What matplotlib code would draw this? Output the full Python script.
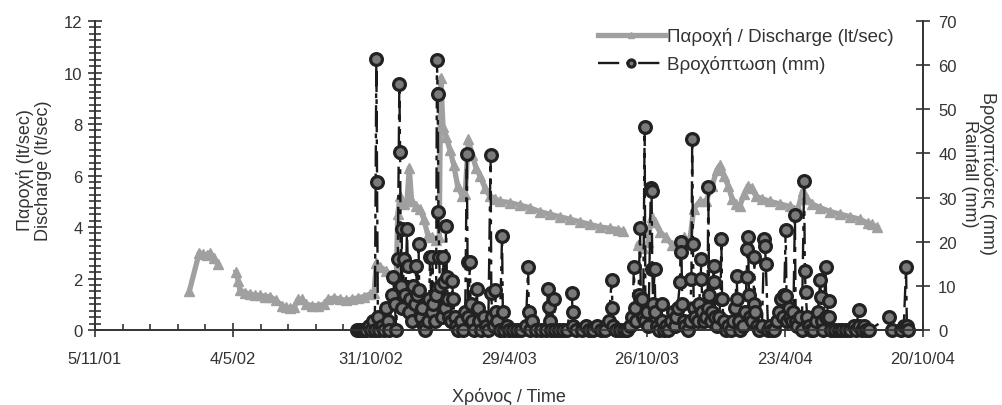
import numpy as np
import pandas as pd
import matplotlib
matplotlib.use('Agg')
import matplotlib.pyplot as plt
import matplotlib.dates as mdates
from matplotlib.ticker import MultipleLocator, FixedLocator

plt.rcParams['font.family'] = ['Liberation Sans', 'DejaVu Sans']
plt.rcParams['text.color'] = '#333333'
plt.rcParams['axes.labelcolor'] = '#333333'

start = pd.Timestamp('2001-11-05')
tick_dates = ['2001-11-05', '2002-05-04', '2002-10-31', '2003-04-29',
              '2003-10-26', '2004-04-23', '2004-10-20']
tick_labels = ['5/11/01', '4/5/02', '31/10/02', '29/4/03', '26/10/03', '23/4/04', '20/10/04']

# discharge (lt/sec), (days since 5/11/01, value), three measuring periods
q_seg1 = [(123, 1.5), (136, 3.0), (141, 2.95), (146, 2.9), (150, 3.0), (155, 2.8), (160, 2.55)]
q_seg2 = [(184, 2.25), (187, 1.9), (189, 1.55), (196, 1.45), (202, 1.4), (209, 1.35), (215, 1.35),
          (222, 1.3), (228, 1.3), (236, 1.15), (244, 0.95), (249, 0.9), (254, 0.85), (260, 0.9),
          (265, 1.2), (270, 1.2), (275, 1.0), (283, 0.95), (291, 0.95), (299, 1.0), (304, 1.2),
          (312, 1.25), (320, 1.2), (327, 1.15), (335, 1.2), (343, 1.25), (351, 1.3), (359, 1.4),
          (364, 1.45), (367, 2.6), (372, 2.45), (380, 2.3), (387, 2.1), (393, 2.0), (395, 4.5),
          (398, 5.2), (403, 4.9), (407, 5.0), (410, 6.3), (413, 5.0), (419, 4.8), (424, 4.7),
          (429, 4.3), (434, 3.7), (440, 3.6), (445, 3.5), (449, 3.6), (451, 9.8), (454, 7.9),
          (458, 7.5), (463, 7.0), (468, 6.4), (473, 5.6), (479, 5.2), (483, 5.3), (487, 7.4),
          (492, 6.8), (497, 6.3), (502, 6.0), (509, 5.5), (515, 5.2), (522, 5.1), (528, 5.0),
          (541, 4.95), (554, 4.85), (567, 4.75), (580, 4.6), (593, 4.5), (606, 4.4), (620, 4.3),
          (633, 4.2), (646, 4.1), (659, 4.0), (672, 3.95), (682, 3.9), (689, 3.85)]
q_seg3 = [(708, 3.3), (715, 3.2), (721, 3.4), (726, 4.4), (730, 4.2), (737, 3.8), (745, 3.6),
          (753, 3.3), (760, 3.3), (768, 3.6), (776, 3.5), (781, 4.7), (789, 5.0), (797, 5.0),
          (805, 5.6), (811, 6.2), (815, 6.4), (820, 6.0), (826, 5.6), (831, 5.1), (836, 4.9),
          (841, 4.8), (847, 5.3), (852, 5.6), (857, 5.5), (862, 5.2), (870, 5.1), (880, 5.0),
          (893, 4.9), (906, 4.8), (917, 4.7), (923, 5.4), (929, 5.1), (935, 4.9), (946, 4.75),
          (959, 4.6), (972, 4.5), (985, 4.4), (998, 4.3), (1008, 4.15), (1013, 4.1), (1020, 4.0)]

# rainfall (mm), (days since 5/11/01, value)
rain_obs = [
    (342, 0), (345, 0), (348, 0), (351, 0), (354, 0), (357, 1), (360, 0), (363, 2), (365, 0),
    (367, 61.5), (368, 33.6), (369, 3), (371, 0), (374, 1), (377, 0), (380, 5), (382, 2), (384, 0),
    (387, 8), (389, 12), (391, 6), (393, 0), (395, 16), (397, 55.7), (398, 40.3), (399, 10),
    (400, 22.9), (401, 5), (403, 16), (405, 8), (407, 22.9), (408, 14.5), (409, 4), (411, 7),
    (413, 2), (415, 10), (417, 6), (419, 14.5), (420, 8), (422, 19.5), (423, 9), (425, 3),
    (427, 5), (429, 1), (431, 0), (434, 2), (436, 7), (437, 16.5), (439, 4), (440, 16.5),
    (441, 6), (443, 2), (445, 8), (446, 61.2), (447, 53.5), (448, 26.7), (449, 16.5), (450, 10),
    (452, 3), (454, 16.5), (455, 10.8), (456, 5), (458, 23.6), (459, 12), (460, 7), (462, 3),
    (464, 2), (466, 11.2), (467, 7), (469, 3), (471, 1), (474, 0), (477, 2), (480, 0), (483, 4),
    (485, 39.9), (486, 15.3), (487, 3), (489, 15.3), (490, 6), (492, 2), (495, 0), (498, 9.3),
    (499, 5), (501, 2), (504, 0), (507, 3), (510, 1), (513, 0), (516, 39.6), (517, 8.3), (518, 3),
    (520, 1), (522, 9), (523, 4), (525, 2), (528, 0), (531, 21.3), (532, 4), (534, 0), (537, 1),
    (540, 0), (545, 0), (550, 0), (556, 0), (562, 1), (565, 14.2), (566, 4), (567, 0), (570, 2),
    (575, 0), (582, 0), (588, 0), (591, 9.3), (592, 5.3), (593, 2), (595, 0), (599, 7), (600, 0),
    (605, 0), (610, 0), (616, 0), (622, 8.4), (623, 4), (624, 1), (628, 0), (635, 0), (640, 1),
    (645, 0), (650, 0), (655, 1), (660, 0), (665, 0), (670, 2), (674, 11.3), (675, 5), (676, 1),
    (680, 0), (685, 0), (690, 0), (694, 0), (698, 1), (701, 3), (703, 14.2), (704, 5), (706, 2),
    (709, 8), (711, 23), (712, 7), (713, 7), (715, 3), (717, 46), (718, 2), (720, 4), (722, 1),
    (725, 32.2), (726, 31.5), (727, 13.8), (728, 6), (730, 13.8), (731, 4), (733, 1), (736, 0),
    (739, 6), (740, 2), (742, 0), (745, 1), (748, 0), (751, 2), (754, 4), (756, 1), (758, 3),
    (760, 5), (763, 10.8), (764, 19.9), (765, 17.7), (766, 6), (768, 2), (770, 1), (773, 0),
    (776, 2), (778, 11.6), (779, 43.3), (780, 19.5), (781, 5), (783, 3), (786, 2), (788, 6),
    (790, 11.6), (791, 16), (792, 4), (794, 2), (797, 3), (799, 5), (800, 32.4), (801, 8),
    (803, 2), (805, 4), (807, 14.5), (808, 10.8), (809, 3), (811, 1), (814, 3), (816, 7),
    (817, 20.6), (818, 7), (820, 2), (823, 0), (826, 1), (829, 0), (832, 2), (835, 5),
    (837, 12.2), (838, 7), (840, 2), (842, 0), (845, 1), (848, 4), (850, 12), (851, 18.3),
    (852, 21.1), (853, 8), (855, 3), (857, 2), (859, 6), (860, 16.5), (861, 4), (863, 1),
    (866, 0), (870, 1), (873, 20.6), (874, 19), (875, 15), (878, 0), (880, 1), (883, 0),
    (886, 0), (889, 2), (892, 4), (895, 7), (897, 3), (899, 8), (901, 22.7), (902, 7.6),
    (903, 2), (905, 5), (907, 3), (909, 2), (911, 4), (913, 26), (914, 2), (916, 1), (919, 3),
    (922, 0), (925, 33.8), (926, 13.4), (927, 8.5), (929, 3), (931, 1), (934, 0), (937, 0),
    (940, 2), (943, 4), (946, 11.3), (947, 7.4), (948, 2), (950, 0), (953, 14.2), (954, 3),
    (957, 6.5), (958, 3), (960, 0), (965, 0), (970, 0), (975, 0), (980, 0), (985, 0), (990, 1),
    (993, 0), (996, 4.6), (997, 1), (1000, 0), (1003, 1), (1006, 0), (1010, 0), (1036, 3),
    (1040, 0), (1052, 0), (1055, 1), (1058, 14.2), (1059, 1), (1060, 0)]


def to_dates(days):
    return start + pd.to_timedelta(np.asarray(days, dtype=float), unit='D')


ink = '#333333'
fig = plt.figure(figsize=(10.02, 4.06), dpi=100)
ax = fig.add_axes([0.0948, 0.1847, 0.8263, 0.7611])
ax2 = ax.twinx()

for i, seg in enumerate([q_seg1, q_seg2, q_seg3]):
    d, v = zip(*seg)
    ax.plot(to_dates(d), v, color='#a0a0a0', lw=3.8, marker='^', ms=6.5,
            mfc='#a0a0a0', mec='#a0a0a0', label='Παροχή / Discharge (lt/sec)' if i == 0 else None)

rd, rv = zip(*rain_obs)
ax2.plot(to_dates(rd), rv, color='#1a1a1a', lw=1.7, ls=(0, (9, 3, 2, 3)), marker='o', ms=8.5,
         mfc='#7a7a7a', mec='#222222', mew=2.3, clip_on=False, label='Βροχόπτωση (mm)')

ax.set_xlim(pd.Timestamp(tick_dates[0]), pd.Timestamp(tick_dates[-1]))
ax.set_xticks(pd.to_datetime(tick_dates))
ax.set_xticklabels(tick_labels)
minor_x = pd.date_range(tick_dates[0], tick_dates[-1], freq='36D')
ax.xaxis.set_minor_locator(FixedLocator(mdates.date2num(minor_x)))

ax.set_ylim(0, 12)
ax.yaxis.set_major_locator(MultipleLocator(2))
ax.yaxis.set_minor_locator(MultipleLocator(0.25))
ax2.set_ylim(0, 70)
ax2.yaxis.set_major_locator(MultipleLocator(10))

ax.tick_params(axis='x', which='major', direction='inout', length=10, width=1.2, colors=ink, labelsize=12, pad=10)
ax.tick_params(axis='x', which='minor', direction='in', length=4, width=1.2, colors=ink)
ax.tick_params(axis='y', which='major', direction='inout', length=10, width=1.2, colors=ink, labelsize=12, pad=4)
ax.tick_params(axis='y', which='minor', direction='inout', length=8, width=1.2, colors=ink)
ax2.tick_params(axis='y', which='major', direction='inout', length=10, width=1.2, colors=ink, labelsize=12, pad=6)

for a in (ax, ax2):
    a.spines['top'].set_visible(False)
    for s in ('left', 'right', 'bottom'):
        a.spines[s].set_color(ink)
        a.spines[s].set_linewidth(1.2)

ax.set_xlabel('Χρόνος / Time', fontsize=13, labelpad=15)
ax.set_ylabel('Παροχή (lt/sec)\nDischarge (lt/sec)', fontsize=13, linespacing=1.05,
              rotation=90, rotation_mode='default', ha='center', va='center')
ax.yaxis.set_label_coords(-0.074, 0.52)
ax2.set_ylabel('Βροχοπτώσεις (mm)\nRainfall (mm)', fontsize=13, linespacing=1.1,
               rotation=270, rotation_mode='default', ha='center', va='center')
ax2.yaxis.set_label_coords(1.068, 0.51)

h1, l1 = ax.get_legend_handles_labels()
h2, l2 = ax2.get_legend_handles_labels()
ax2.legend(h1 + h2, l1 + l2, loc='upper right', bbox_to_anchor=(0.985, 1.035), frameon=False,
           fontsize=13.5, handlelength=3.6, handletextpad=0.1, labelspacing=0.55, markerscale=0.6)

fig.savefig('out.png', dpi=100)
